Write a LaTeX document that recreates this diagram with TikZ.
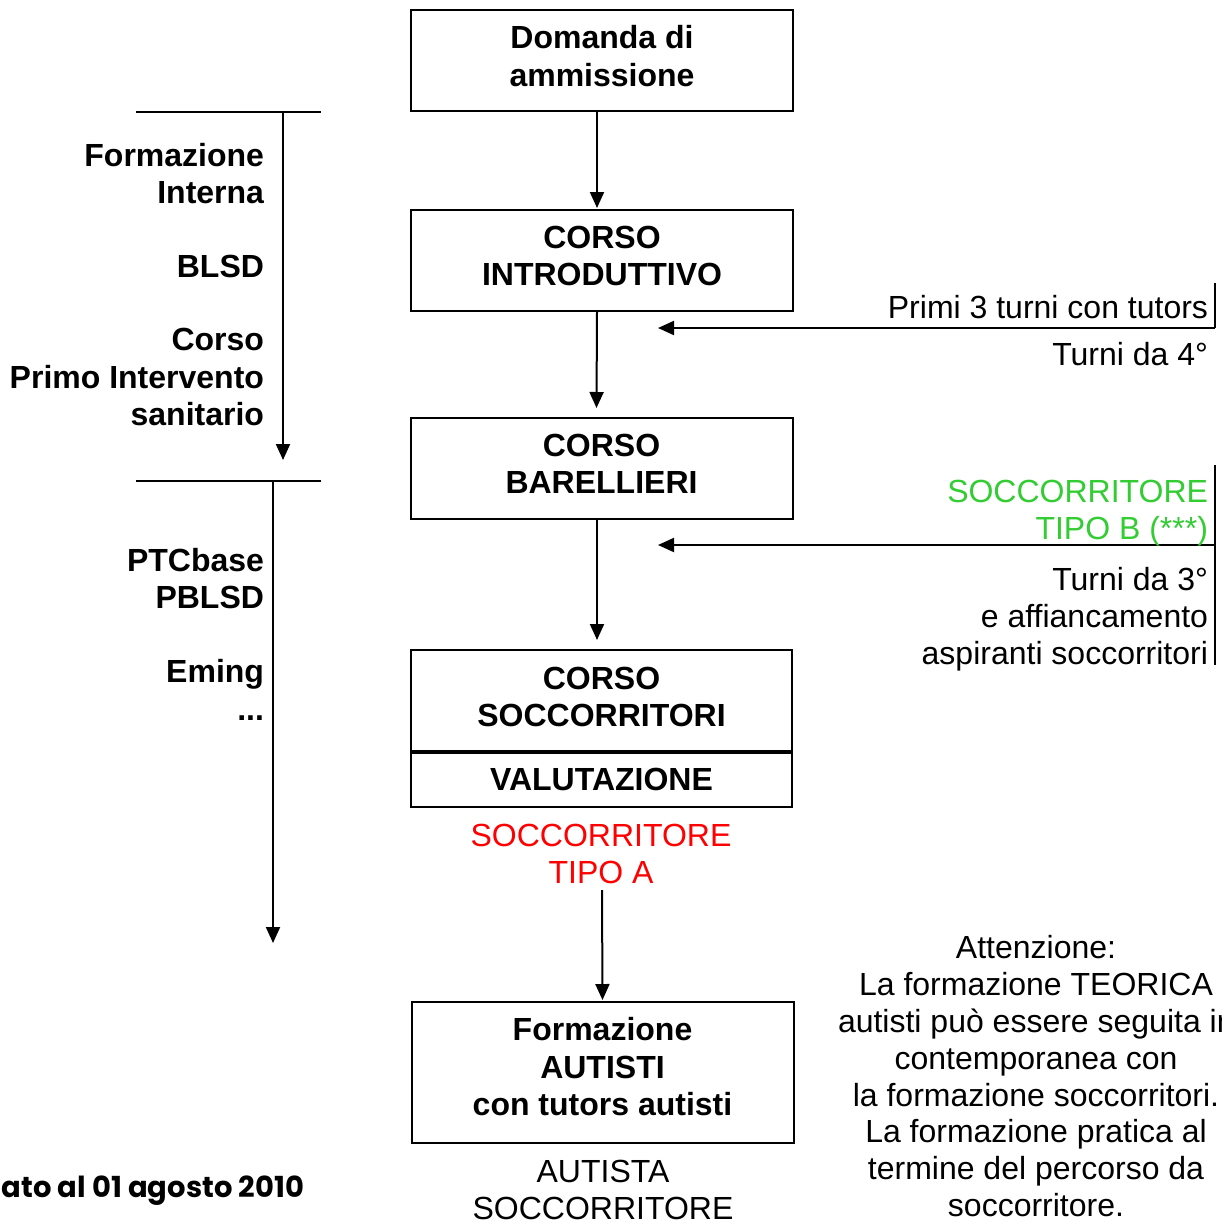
\documentclass[tikz,border=0pt]{standalone}
\usepackage{fontspec}
\setmainfont{Liberation Sans}
\newfontfamily\datefont{Poppins}
\usetikzlibrary{arrows.meta}
\definecolor{tipoB}{RGB}{51,204,51}
\begin{document}
\begin{tikzpicture}[x=1pt,y=-1pt,
  every node/.style={inner sep=0pt, outer sep=0pt},
  txt/.style={font=\fontsize{32}{37.5}\selectfont},
  btxt/.style={font=\fontsize{32}{37.5}\selectfont\bfseries},
  box/.style={draw, line width=2pt, minimum width=382pt, align=center, btxt},
  arr/.style={line width=2pt, -{Triangle[length=16pt,width=14pt]}},
  ln/.style={line width=2pt}]
\useasboundingbox (0,0) rectangle (1222,1221);
\clip (0,0) rectangle (1222,1221);

% main boxes
\node[box, minimum height=101pt, text depth=9pt] (dom) at (602,60.5) {Domanda di\\ammissione};
\node[box, minimum height=101pt, text depth=9pt] (intro) at (602,260.5) {CORSO\\INTRODUTTIVO};
\node[box, minimum height=101pt, text depth=9pt] (bar) at (601.5,468.5) {CORSO\\BARELLIERI};
\node[box, minimum width=381pt, minimum height=102pt, text depth=8pt] (soc) at (601.5,701) {CORSO\\SOCCORRITORI};
\node[box, minimum width=381pt, minimum height=55pt] (val) at (601.5,779.5) {VALUTAZIONE};
\draw[line width=4pt] (soc.south west) -- (soc.south east);
\node[box, minimum height=141pt, text depth=12pt] (aut) at (602.5,1072.5) {Formazione\\AUTISTI\\con tutors autisti};

% vertical flow arrows
\draw[arr] ([xshift=-5pt]dom.south) -- ([xshift=-5pt,yshift=2pt]intro.north);
\draw[arr] ([xshift=-5pt]intro.south) -- ([xshift=-5pt,yshift=10pt]bar.north);
\draw[arr] ([xshift=-4.5pt]bar.south) -- ([xshift=-4.5pt,yshift=10pt]soc.north);

% tipo A
\node[txt, text=red, align=center, anchor=north] (tipoA) at (601,824) {SOCCORRITORE\\TIPO A};
\draw[arr] ([xshift=1pt,yshift=-6pt]tipoA.south) -- ([yshift=2pt]aut.north);

% autista soccorritore
\node[txt, align=center, anchor=north] (autsoc) at (603,1160) {AUTISTA\\SOCCORRITORE};

% left timeline 1
\coordinate (h1a) at (136,112);
\coordinate (h1b) at (321,112);
\coordinate (v1a) at (283,112);
\coordinate (v1b) at (283,460);
\draw[ln] (h1a) -- (h1b);
\draw[arr] (v1a) -- (v1b);
\node[btxt, anchor=base east] (l1) at (264,166) {Formazione};
\node[btxt, anchor=base east] (l2) at (264,203.5) {Interna};
\node[btxt, anchor=base east] (l3) at (264,277) {BLSD};
\node[btxt, anchor=base east] (l4) at (264,350.5) {Corso};
\node[btxt, anchor=base east] (l5) at (264,388) {Primo Intervento};
\node[btxt, anchor=base east] (l6) at (264,425) {sanitario};

% left timeline 2
\coordinate (h2a) at (136,481);
\coordinate (h2b) at (321,481);
\coordinate (v2a) at (273,481);
\coordinate (v2b) at (273,943);
\draw[ln] (h2a) -- (h2b);
\draw[arr] (v2a) -- (v2b);
\node[btxt, anchor=base east] (m1) at (264,571.5) {PTCbase};
\node[btxt, anchor=base east] (m2) at (264,608.5) {PBLSD};
\node[btxt, anchor=base east] (m3) at (264,682.5) {Eming};
\node[btxt, anchor=base east] (m4) at (264,720) {...};

% right bracket 1
\coordinate (r1t) at (1215,283);
\coordinate (r1m) at (1215,328);
\coordinate (r1e) at (658,328);
\draw[ln] (r1t) -- (r1m);
\draw[arr] (r1m) -- (r1e);
\node[txt, anchor=base east] (p1) at (1208,318.5) {Primi 3 turni con tutors};
\node[txt, anchor=base east] (p2) at (1208,365.5) {Turni da 4°};

% right bracket 2
\coordinate (r2t) at (1215,465);
\coordinate (r2b) at (1215,665);
\coordinate (r2m) at (1215,545);
\coordinate (r2e) at (658,545);
\draw[ln] (r2t) -- (r2b);
\draw[arr] (r2m) -- (r2e);
\node[txt, anchor=base east, text=tipoB] (g1) at (1208,502.5) {SOCCORRITORE};
\node[txt, anchor=base east, text=tipoB] (g2) at (1208,539) {TIPO B (***)};
\node[txt, anchor=base east] (q1) at (1208,590.5) {Turni da 3°};
\node[txt, anchor=base east] (q2) at (1208,627.5) {e affiancamento};
\node[txt, anchor=base east] (q3) at (1208,664.5) {aspiranti soccorritori};

% note
\node[txt, anchor=base] (n1) at (1036,958) {Attenzione:};
\node[txt, anchor=base] (n2) at (1036,995) {La formazione TEORICA};
\node[txt, anchor=base west] (n3) at (838,1032) {autisti può essere seguita in};
\node[txt, anchor=base] (n4) at (1036,1069) {contemporanea con};
\node[txt, anchor=base] (n5) at (1036,1106) {la formazione soccorritori.};
\node[txt, anchor=base] (n6) at (1036,1142.5) {La formazione pratica al};
\node[txt, anchor=base] (n7) at (1036,1179.5) {termine del percorso da};
\node[txt, anchor=base] (n8) at (1036,1216) {soccorritore.};

% date
\node[anchor=base east, font=\datefont\bfseries\fontsize{29}{32}\selectfont] (date) at (304,1197) {Aggiornato al 01 agosto 2010};
\end{tikzpicture}
\end{document}
